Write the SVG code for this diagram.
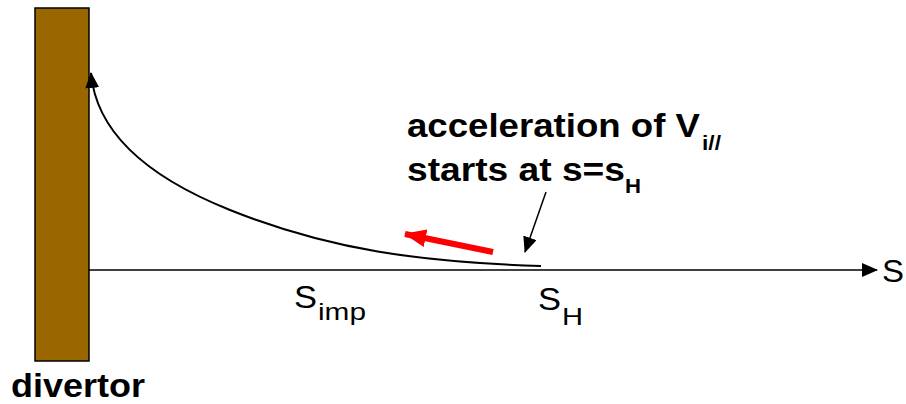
<svg xmlns="http://www.w3.org/2000/svg" width="906" height="404" viewBox="0 0 906 404">
<style>
text{font-family:"Liberation Sans",Arial,sans-serif;fill:#000}
.b{font-weight:bold;font-size:33px}
.r{font-size:32px}
.sub{font-size:24px}
.bsub{font-size:21px;font-weight:bold}
</style>
<defs>
<marker id="ahL" markerWidth="16" markerHeight="14" refX="15" refY="7" orient="auto" markerUnits="userSpaceOnUse" viewBox="0 0 16 14"><path d="M0,0 L16,7 L0,14 z" fill="#000"/></marker>
<marker id="ahR" markerWidth="22" markerHeight="18" refX="21" refY="9" orient="auto" markerUnits="userSpaceOnUse" viewBox="0 0 22 18"><path d="M0,0 L22,9 L0,18 z" fill="#f00"/></marker>
</defs>
<g id="divertor">
<rect x="35" y="8" width="54" height="353" fill="#996600" stroke="#000" stroke-width="1.5"/>
<text class="b" x="11" y="397" textLength="134" lengthAdjust="spacingAndGlyphs">divertor</text>
</g>
<g id="connectors" fill="none" stroke="#000">
<line x1="89" y1="270" x2="877" y2="270" stroke-width="1.5" marker-end="url(#ahL)"/>
<path d="M541,266 C420,262 330,250 230,210 C130,170 95,120 91,73" stroke-width="2" marker-end="url(#ahL)"/>
<line x1="546" y1="192" x2="525" y2="252" stroke-width="1.5" marker-end="url(#ahL)"/>
<line x1="493" y1="252" x2="405" y2="234" stroke="#f00" stroke-width="6" marker-end="url(#ahR)"/>
</g>
<g id="axis-label"><text class="r" x="882" y="282" textLength="22" lengthAdjust="spacingAndGlyphs">S</text></g>
<g id="simp">
<text class="r" x="294" y="308" textLength="23" lengthAdjust="spacingAndGlyphs">S</text>
<text class="sub" x="318" y="320" textLength="48" lengthAdjust="spacingAndGlyphs">imp</text>
</g>
<g id="sH">
<text class="r" x="538" y="310" textLength="23" lengthAdjust="spacingAndGlyphs">S</text>
<text class="sub" x="562" y="325" textLength="21" lengthAdjust="spacingAndGlyphs">H</text>
</g>
<g id="note">
<text class="b" x="407" y="137" textLength="293" lengthAdjust="spacingAndGlyphs">acceleration of V</text>
<text class="bsub" x="702" y="150" textLength="19" lengthAdjust="spacingAndGlyphs">i//</text>
<text class="b" x="407" y="181" textLength="218" lengthAdjust="spacingAndGlyphs">starts at s=s</text>
<text class="bsub" x="625" y="193" textLength="16" lengthAdjust="spacingAndGlyphs">H</text>
</g>
</svg>
